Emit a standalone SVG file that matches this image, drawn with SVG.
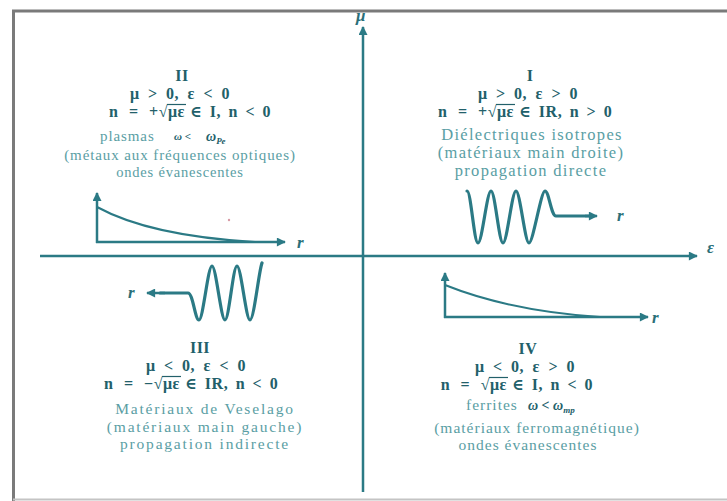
<svg xmlns="http://www.w3.org/2000/svg" width="727" height="501" viewBox="0 0 727 501">
<defs>
<marker id="ah" viewBox="0 0 10 10" refX="9" refY="5" markerUnits="userSpaceOnUse" markerWidth="10" markerHeight="9" orient="auto">
<path d="M0,0 L10,5 L0,10 z" fill="#2b7a85"/>
</marker>
</defs>
<style>
.frame{stroke:#7a7a7a;stroke-width:3;fill:none}
.ax{stroke:#2b7a85;stroke-width:2.5;fill:none}
.wave{stroke:#2b7a85;stroke-width:3.2;fill:none;stroke-linejoin:round;stroke-linecap:round}
.thin{stroke:#2b7a85;stroke-width:2.5;fill:none}
.curve{stroke:#2b7a85;stroke-width:2;fill:none}
.h{font-family:"Liberation Serif","DejaVu Serif",serif;font-size:16px;font-weight:bold;fill:#22606a;text-anchor:middle;word-spacing:4px;letter-spacing:0.5px}
.ea{font-family:"Liberation Serif","DejaVu Serif",serif;font-size:16px;font-weight:bold;fill:#22606a;text-anchor:end;word-spacing:6px;letter-spacing:0.5px}
.eb{font-family:"Liberation Serif","DejaVu Serif",serif;font-size:16px;font-weight:bold;fill:#22606a;letter-spacing:0.5px}
.ec{font-family:"Liberation Serif","DejaVu Serif",serif;font-size:16px;font-weight:bold;fill:#22606a;word-spacing:3px;letter-spacing:0.5px}
.ovl{stroke:#22606a;stroke-width:1.2}
.d{font-family:"Liberation Serif","DejaVu Serif",serif;fill:#5a9ea4;text-anchor:middle}
.q2{font-size:14.5px;letter-spacing:0.8px}
.q1{font-size:16.5px;letter-spacing:1.3px}
.q3{font-size:15.5px;letter-spacing:1.8px}
.q4{font-size:15.5px;letter-spacing:1px}
.ds{font-family:"Liberation Serif","DejaVu Serif",serif;fill:#5a9ea4}
.m{font-family:"Liberation Serif","DejaVu Serif",serif;font-weight:bold;font-style:italic;fill:#22606a}
.lab{font-family:"Liberation Serif","DejaVu Serif",serif;font-size:17px;font-style:italic;font-weight:bold;fill:#2b6f79}
</style>
<rect width="727" height="501" fill="#ffffff"/>
<g id="frame">
<line class="frame" x1="12" y1="11" x2="727" y2="11"/>
<line class="frame" x1="13.5" y1="10" x2="13.5" y2="501"/>
<line x1="13" y1="499.5" x2="727" y2="499.5" stroke="#c4c4c4" stroke-width="2"/>
</g>
<g id="connectors">
<line class="ax" x1="40" y1="256" x2="697" y2="256" marker-end="url(#ah)"/>
<line class="ax" x1="363" y1="492" x2="363" y2="27" marker-end="url(#ah)"/>
</g>
<g id="axis-labels">
<text class="lab" x="356" y="21">μ</text>
<text class="lab" x="707" y="253">ε</text>
</g>
<g id="quadrant-II">
<text class="h" x="182" y="81">II</text>
<text class="h" x="180" y="99">μ &gt; 0, ε &lt; 0</text>
<text class="ea" x="168" y="117">n = +√</text>
<text class="eb" x="168" y="117">με</text>
<line class="ovl" x1="167" y1="104.5" x2="186" y2="104.5"/>
<text class="ec" x="190" y="117">∈ I, n &lt; 0</text>
<text class="ds q2" x="100" y="141" style="font-size:15px;letter-spacing:0.9px">plasmas</text>
<text class="m" x="174" y="140" font-size="11">ω &lt;</text>
<text class="m" x="206" y="141" font-size="14">ω<tspan font-size="9" dy="3">Pe</tspan></text>
<text class="d q2" x="180" y="160" style="font-size:15px;letter-spacing:0.9px">(métaux aux fréquences optiques)</text>
<text class="d q2" x="180" y="177">ondes évanescentes</text>
<line class="thin" x1="97" y1="243" x2="97" y2="193" marker-end="url(#ah)"/>
<line class="thin" x1="96" y1="242" x2="285" y2="242" marker-end="url(#ah)"/>
<path class="curve" d="M97,207 Q150,236 255,242"/>
<circle cx="229" cy="220" r="1.2" fill="#d89aa5"/>
<text class="lab" x="297" y="248">r</text>
</g>
<g id="quadrant-I">
<text class="h" x="530" y="81">I</text>
<text class="h" x="528" y="99">μ &gt; 0, ε &gt; 0</text>
<text class="ea" x="497" y="117">n = +√</text>
<text class="eb" x="497" y="117">με</text>
<line class="ovl" x1="496" y1="104.5" x2="515" y2="104.5"/>
<text class="ec" x="519" y="117">∈ IR, n &gt; 0</text>
<text class="d q1" x="532" y="140">Diélectriques isotropes</text>
<text class="d q1" x="531" y="158">(matériaux main droite)</text>
<text class="d q1" x="531" y="176">propagation directe</text>
<path class="wave" d="M467,191 C471,191 474,243 478,243 C482,243 487,191 491,191 C495,191 499,243 503,243 C507,243 512,191 516,191 C520,191 525,243 529,243 C533,243 541,191 545,191 C549,191 551,216 556,216 L590,216"/>
<line class="thin" x1="585" y1="216" x2="597" y2="216" marker-end="url(#ah)"/>
<text class="lab" x="617" y="221">r</text>
</g>
<g id="quadrant-III">
<text class="h" x="200" y="353">III</text>
<text class="h" x="196" y="371">μ &lt; 0, ε &lt; 0</text>
<text class="ea" x="163" y="389">n = −√</text>
<text class="eb" x="163" y="389">με</text>
<line class="ovl" x1="162" y1="376.5" x2="181" y2="376.5"/>
<text class="ec" x="185" y="389">∈ IR, n &lt; 0</text>
<text class="d q3" x="205" y="414">Matériaux de Veselago</text>
<text class="d q3" x="205" y="431.5">(matériaux main gauche)</text>
<text class="d q3" x="205" y="449">propagation indirecte</text>
<path class="wave" d="M160,293 L188,293 C193,293 195,320 199,320 C203,320 208,266 212,266 C216,266 221,320 225,320 C229,320 233,266 237,266 C241,266 246,320 250,320 C254,320 259,270 262,263"/>
<line class="thin" x1="165" y1="293" x2="147" y2="293" marker-end="url(#ah)"/>
<text class="lab" x="128" y="298">r</text>
</g>
<g id="quadrant-IV">
<text class="h" x="528" y="354">IV</text>
<text class="h" x="525" y="372">μ &lt; 0, ε &gt; 0</text>
<text class="ea" x="490" y="390">n = √</text>
<text class="eb" x="490" y="390">με</text>
<line class="ovl" x1="489" y1="377.5" x2="508" y2="377.5"/>
<text class="ec" x="512" y="390">∈ I, n &lt; 0</text>
<text class="ds" x="466" y="410" style="font-size:15.5px;letter-spacing:1px">ferrites</text>
<text class="m" x="528" y="410" font-size="14">ω &lt; ω<tspan font-size="9" dy="3">mp</tspan></text>
<text class="d q4" x="537" y="433">(matériaux ferromagnétique)</text>
<text class="d q4" x="528" y="450">ondes évanescentes</text>
<line class="thin" x1="445" y1="318" x2="445" y2="273" marker-end="url(#ah)"/>
<line class="thin" x1="444" y1="317" x2="648" y2="317" marker-end="url(#ah)"/>
<path class="curve" d="M445,285 Q510,311 600,317"/>
<text class="lab" x="652" y="323">r</text>
</g>
</svg>
